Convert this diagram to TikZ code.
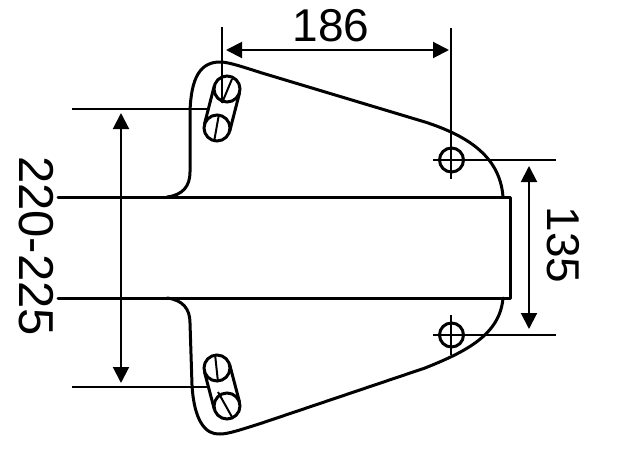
\documentclass[tikz,border=0pt]{standalone}
\usepackage{fontspec}
\setmainfont{Liberation Sans}
\usetikzlibrary{arrows.meta,calc}
\tikzset{
  outline/.style={line width=3pt,line cap=round,line join=round},
  thin line/.style={line width=2pt},
  slot/.style={line width=3pt},
  dimension/.style={line width=2pt,{Triangle[length=16pt,width=16pt]}-{Triangle[length=16pt,width=16pt]}},
  dimtext/.style={font=\fontsize{46}{46}\selectfont,inner sep=0pt}
}
\begin{document}
\begin{tikzpicture}[x=1pt,y=-1pt]
\useasboundingbox (0,0) rectangle (634,458);
% body
\draw[outline] (58,197) -- (510,197) -- (510,298) -- (58,298);
% flange outline
\draw[outline] (167,197) .. controls (183,195) and (190,186) .. (190,172)
  -- (190,112) .. controls (191,78) and (200,62) .. (220,62)
  .. controls (228,62) and (240,66) .. (262,73)
  -- (425,122) .. controls (465,135) and (500,155) .. (503,197);
\draw[outline] (167,298) .. controls (183,300) and (190,309) .. (190,323)
  -- (192,385) .. controls (194,420) and (205,435) .. (220,434)
  .. controls (228,434) and (240,430) .. (262,423)
  -- (425,368) .. controls (465,352) and (500,335) .. (503,298);
% slots
\foreach \a/\b in {227/89, 217/128, 217/368, 227/406}{\draw[slot] (\a,\b) circle (13);}
\draw[slot] (214.5,85) -- (204.5,124) (239.5,93) -- (229.5,132);
\draw[slot] (204.5,372) -- (214.5,410) (229.5,364) -- (239.5,402);
% centre lines of slots
\draw[thin line] (232,79) -- (222,103) (219,114) -- (214,142);
\draw[thin line] (215,354) -- (218,382) (218,392) -- (232,417);
% extension lines
\coordinate (tl) at (222,27); \coordinate (tle) at (222,103);
\coordinate (tr) at (451,28); \coordinate (tre) at (451,179);
\coordinate (l1) at (72,109); \coordinate (l1e) at (208,109);
\coordinate (l2) at (72,387); \coordinate (l2e) at (208,387);
\coordinate (r1) at (433,160); \coordinate (r1e) at (556,160);
\coordinate (r2) at (433,335); \coordinate (r2e) at (556,335);
\coordinate (b1) at (451,315); \coordinate (b1e) at (451,355);
\draw[thin line] (tl) -- (tle) (tr) -- (tre) (l1) -- (l1e) (l2) -- (l2e) (r1) -- (r1e) (r2) -- (r2e) (b1) -- (b1e);
% crosshair circles
\draw[slot] (451.5,160) circle (12) (451.5,335) circle (12);
% dimensions
\coordinate (d1a) at (226,50); \coordinate (d1b) at (449,50);
\coordinate (d2a) at (121,113); \coordinate (d2b) at (121,383);
\coordinate (d3a) at (529,166); \coordinate (d3b) at (529,329);
\draw[dimension] (d1a) -- (d1b);
\draw[dimension] (d2a) -- (d2b);
\draw[dimension] (d3a) -- (d3b);
% labels
\node[dimtext] (t186) at (331,26) {186};
\node[dimtext,rotate=-90] (t135) at (563,245) {135};
\node[dimtext,rotate=-90,font=\fontsize{49}{49}\selectfont] (t220) at (36,246) {220-225};
\end{tikzpicture}
\end{document}
